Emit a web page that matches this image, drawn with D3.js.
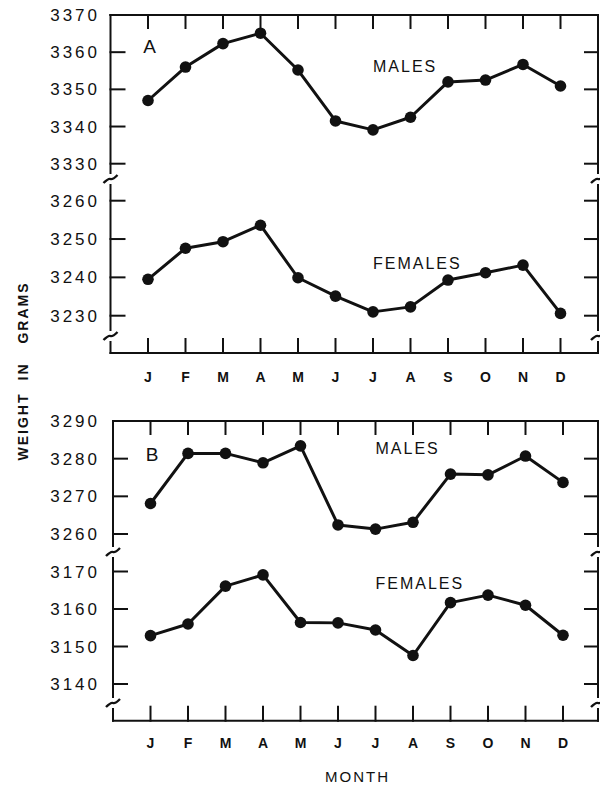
<!DOCTYPE html>
<html>
<head>
<meta charset="utf-8">
<script src="https://cdn.jsdelivr.net/npm/d3@7"></script>
<style>
  html, body { margin: 0; padding: 0; background: #fff; }
  svg { display: block; font-family: "Liberation Sans", Arial, sans-serif; }
</style>
</head>
<body>
<svg id="chart" width="600" height="786"></svg>
<script>
// Monthly mean body weight (grams), two samples (A, B), males and females
const months = ["J", "F", "M", "A", "M", "J", "J", "A", "S", "O", "N", "D"];

const malesA   = [3347, 3356, 3362.3, 3365.1, 3355.2, 3341.5, 3339.1, 3342.5, 3352, 3352.5, 3356.7, 3350.9];
const femalesA = [3239.5, 3247.6, 3249.3, 3253.6, 3239.9, 3235.1, 3231, 3232.3, 3239.3, 3241.2, 3243.2, 3230.6];
const malesB   = [3268.1, 3281.4, 3281.4, 3278.9, 3283.4, 3262.4, 3261.3, 3263.1, 3275.9, 3275.7, 3280.7, 3273.7];
const femalesB = [3152.9, 3156, 3166.1, 3169.1, 3156.4, 3156.3, 3154.4, 3147.6, 3161.7, 3163.7, 3161, 3153];

const ticksMalesA   = [3330, 3340, 3350, 3360, 3370];
const ticksFemalesA = [3230, 3240, 3250, 3260];
const ticksMalesB   = [3260, 3270, 3280, 3290];
const ticksFemalesB = [3140, 3150, 3160, 3170];

const svg = d3.select("#chart");
const ink = "#111";

const panels = [
  {
    name: "A", xFirst: 148, right: 598, top: 15, bottom: 353, breaks: [179, 336],
    upper: { domain: [3330, 3370], range: [163.7, 15], ticks: ticksMalesA, values: malesA, label: "MALES", labelAt: [6, 3354.8] },
    lower: { domain: [3230, 3260], range: [315.7, 200.7], ticks: ticksFemalesA, values: femalesA, label: "FEMALES", labelAt: [6, 3242.2] },
    letterY: 52.7, monthY: 381.5
  },
  {
    name: "B", xFirst: 150.5, right: 598, top: 421, bottom: 720.7, breaks: [552, 703],
    upper: { domain: [3260, 3290], range: [534, 421], ticks: ticksMalesB, values: malesB, label: "MALES", labelAt: [6, 3281.3] },
    lower: { domain: [3140, 3170], range: [684, 571.5], ticks: ticksFemalesB, values: femalesB, label: "FEMALES", labelAt: [6, 3165.3] },
    letterY: 460.5, monthY: 748
  }
];

panels.forEach(p => {
  const step = 37.5;
  const x = d3.scaleLinear().domain([0, 11]).range([p.xFirst, p.xFirst + 11 * step]);
  const left = x(-1);
  const g = svg.append("g");

  const line = (x1, y1, x2, y2, w) => g.append("line")
    .attr("x1", x1).attr("y1", y1).attr("x2", x2).attr("y2", y2)
    .attr("stroke", ink).attr("stroke-width", w || 2).attr("stroke-linecap", "square");

  // frame: top and bottom edges
  line(left, p.top, p.right, p.top);
  line(left, p.bottom, p.right, p.bottom);

  // side axes broken at the two breaks
  const gap = 6;
  [left, p.right].forEach(ax => {
    const stops = [p.top, p.breaks[0] - gap, p.breaks[0] + gap, p.breaks[1] - gap, p.breaks[1] + gap, p.bottom];
    for (let i = 0; i < stops.length; i += 2) line(ax, stops[i], ax, stops[i + 1]);
    p.breaks.forEach(by => {
      g.append("path")
        .attr("d", `M${ax - 7},${by + 4} Q${ax - 2},${by - 1} ${ax},${by} T${ax + 7},${by - 4}`)
        .attr("fill", "none").attr("stroke", ink).attr("stroke-width", 2.4);
    });
  });

  // month ticks at top and bottom
  months.forEach((m, i) => {
    line(x(i), p.top, x(i), p.top + 13);
    line(x(i), p.bottom, x(i), p.bottom - 14);
  });

  g.selectAll("text.month").data(months).join("text")
    .attr("class", "month")
    .attr("x", (d, i) => x(i)).attr("y", p.monthY)
    .attr("text-anchor", "middle")
    .attr("font-size", 14).attr("font-weight", "bold").attr("fill", ink)
    .text(d => d);

  // each segment: its own y scale, ticks, labels, line and points
  [p.upper, p.lower].forEach(s => {
    const y = d3.scaleLinear().domain(s.domain).range(s.range);

    s.ticks.forEach(t => {
      line(left, y(t), left + 14, y(t));
      line(p.right, y(t), p.right - 13, y(t));
    });

    g.selectAll(null).data(s.ticks).join("text")
      .attr("x", 100).attr("y", d => y(d))
      .attr("dy", "0.36em")
      .attr("text-anchor", "end")
      .attr("font-size", 17).attr("letter-spacing", 3).attr("fill", ink)
      .text(d => d);

    g.append("path")
      .datum(s.values)
      .attr("d", d3.line().x((d, i) => x(i)).y(d => y(d)))
      .attr("fill", "none").attr("stroke", ink).attr("stroke-width", 3)
      .attr("stroke-linejoin", "round");

    g.selectAll(null).data(s.values).join("circle")
      .attr("cx", (d, i) => x(i)).attr("cy", d => y(d))
      .attr("r", 5.8).attr("fill", ink);

    g.append("text")
      .attr("x", x(s.labelAt[0])).attr("y", y(s.labelAt[1]))
      .attr("font-size", 16).attr("letter-spacing", 2).attr("fill", ink)
      .text(s.label);
  });

  // panel letter
  g.append("text")
    .attr("x", x(0) + 1.5).attr("y", p.letterY)
    .attr("text-anchor", "middle")
    .attr("font-size", 19).attr("fill", ink)
    .text(p.name);
});

// shared axis titles
const yTitle = [["WEIGHT", 426.5], ["IN", 371.5], ["GRAMS", 312.5]];
yTitle.forEach(([t, cy]) => {
  svg.append("text")
    .attr("transform", `translate(27.5,${cy}) rotate(-90)`)
    .attr("text-anchor", "middle")
    .attr("font-size", 14).attr("font-weight", "bold").attr("letter-spacing", 2)
    .attr("fill", ink)
    .text(t);
});

svg.append("text")
  .attr("x", 357.5).attr("y", 781.5)
  .attr("text-anchor", "middle")
  .attr("font-size", 15).attr("letter-spacing", 2).attr("fill", ink)
  .text("MONTH");
</script>
</body>
</html>
